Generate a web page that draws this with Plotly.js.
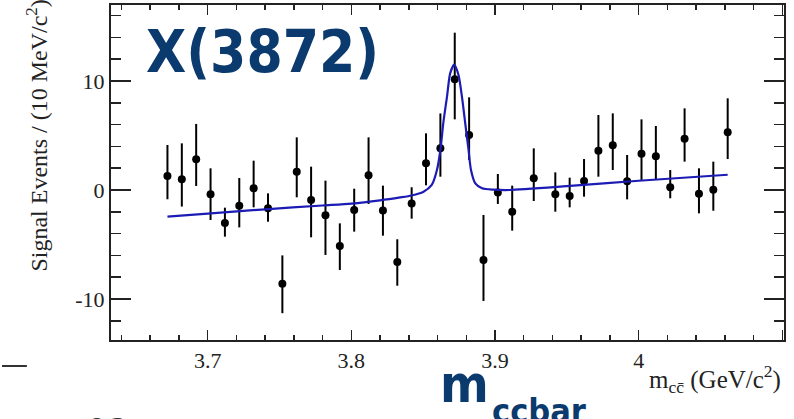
<!DOCTYPE html>
<html>
<head>
<meta charset="utf-8">
<script src="https://cdn.plot.ly/plotly-3.0.1.min.js"></script>
<style>html,body{margin:0;padding:0;background:#fff;overflow:hidden}#chart{width:794px;height:419px}</style>
</head>
<body>
<div id="chart"></div>
<script>
// Data points: bin centres (GeV/c^2), signal events and asymmetric errors
const massX = [3.672,3.682,3.692,3.702,3.712,3.722,3.732,3.742,3.752,3.762,3.772,3.782,3.792,3.802,3.812,3.822,3.832,3.842,3.852,3.862,3.872,3.882,3.892,3.902,3.912,3.927,3.942,3.952,3.962,3.972,3.982,3.992,4.002,4.012,4.022,4.032,4.042,4.052,4.062];
const events = [1.28,0.98,2.82,-0.40,-3.03,-1.44,0.15,-1.68,-8.60,1.68,-0.92,-2.32,-5.14,-1.83,1.35,-1.87,-6.61,-1.25,2.45,3.82,10.15,5.05,-6.42,-0.24,-1.99,1.07,-0.40,-0.55,0.82,3.61,4.10,0.80,3.33,3.09,0.25,4.71,-0.34,0.03,5.29];
const errUp = [2.85,3.30,3.24,2.39,1.41,2.54,2.54,1.37,2.60,3.15,3.06,3.18,2.08,1.95,3.48,2.27,2.09,1.50,2.75,3.20,4.28,3.45,4.13,1.71,2.39,2.75,2.02,1.68,2.02,3.27,2.93,2.41,3.15,2.78,1.58,2.78,2.33,2.57,3.12];
const errDown = [2.13,2.50,2.45,2.35,1.25,1.99,1.74,1.23,2.70,2.35,3.42,3.64,2.20,1.99,2.63,2.32,2.17,1.38,2.02,2.60,3.67,2.30,3.76,1.04,1.74,2.08,1.59,1.04,1.43,2.39,2.27,1.66,2.41,2.17,1.01,2.11,1.80,1.93,2.45];

// Fit curve
const fitX = [3.672,3.700,3.740,3.780,3.800,3.820,3.834,3.842,3.850,3.856,3.8596,3.862,3.864,3.8666,3.8688,3.8716,3.8746,3.877,3.8793,3.8816,3.8833,3.8863,3.891,3.899,3.910,3.950,4.000,4.062];
const fitY = [-2.45,-2.17,-1.77,-1.42,-1.25,-0.95,-0.68,-0.50,-0.18,0.46,1.83,3.67,6.12,8.56,10.70,11.50,10.55,8.56,6.12,3.67,1.83,0.61,0.16,0.03,0.00,0.35,0.85,1.40];

// Tick labels
const xTickVals = [3.7,3.8,3.9,4.0,4.1];
const xTickText = ["3.7","3.8","3.9","4","4.1"];
const yTickVals = [-10,0,10];
const yTickText = ["-10","0","10"];

const serif = "Liberation Serif, Times New Roman, serif";
const bold = "DejaVu Sans Condensed, DejaVu Sans, sans-serif";

const traces = [
  {
    x: massX, y: events, type: 'scatter', mode: 'markers',
    marker: {color: '#000', size: 8},
    error_y: {type: 'data', symmetric: false, array: errUp, arrayminus: errDown, color: '#000', thickness: 2, width: 0},
    hoverinfo: 'x+y'
  },
  {
    x: fitX, y: fitY, type: 'scatter', mode: 'lines',
    line: {color: '#1c1cb4', width: 2.2, shape: 'spline', smoothing: 0.7},
    hoverinfo: 'skip'
  }
];

const layout = {
  width: 794, height: 419,
  margin: {l: 111, r: 10, t: 5, b: 79, pad: 0},
  paper_bgcolor: '#fff', plot_bgcolor: '#fff',
  showlegend: false,
  xaxis: {
    range: [3.6327, 4.1012], showgrid: false, zeroline: false,
    showline: true, linecolor: '#222', linewidth: 2, mirror: 'ticks',
    ticks: 'inside', ticklen: 10, tickwidth: 1.5, tickcolor: '#222',
    tickvals: xTickVals, ticktext: xTickText,
    tickfont: {family: serif, size: 22, color: '#222'},
    minor: {dtick: 0.02, tick0: 3.7, ticks: 'inside', ticklen: 5, tickwidth: 1.5, tickcolor: '#222', showgrid: false}
  },
  yaxis: {
    range: [-13.76, 16.97], showgrid: false, zeroline: false,
    showline: true, linecolor: '#222', linewidth: 2, mirror: 'ticks',
    ticks: 'inside', ticklen: 20, tickwidth: 1.5, tickcolor: '#222',
    tickvals: yTickVals, ticktext: yTickText,
    tickfont: {family: serif, size: 22, color: '#222'},
    minor: {dtick: 2, tick0: 0, ticks: 'inside', ticklen: 10, tickwidth: 1.5, tickcolor: '#222', showgrid: false}
  },
  annotations: [
    {text: 'Signal Events / (10 MeV/c<sup>2</sup>)', xref: 'paper', yref: 'paper',
     x: -0.11, y: 0.61, xanchor: 'center', yanchor: 'middle', textangle: -90, showarrow: false,
     font: {family: serif, size: 24, color: '#222'}},
    {text: 'm<sub>cc̄</sub> (GeV/c<sup>2</sup>)', xref: 'paper', yref: 'paper',
     x: 0.999, y: -0.115, xanchor: 'right', yanchor: 'middle', showarrow: false,
     font: {family: serif, size: 25, color: '#222'}},
    {text: '<b>X(3872)</b>', xref: 'paper', yref: 'paper',
     x: 0.0485, y: 0.861, xanchor: 'left', yanchor: 'middle', showarrow: false,
     font: {family: bold, size: 58, color: '#0b3a6e'}},
    {text: '<b>m</b>', xref: 'paper', yref: 'paper',
     x: 0.486, y: -0.13, xanchor: 'left', yanchor: 'middle', showarrow: false,
     font: {family: bold, size: 52, color: '#0b3a6e'}},
    {text: '<b>ccbar</b>', xref: 'paper', yref: 'paper',
     x: 0.5625, y: -0.213, xanchor: 'left', yanchor: 'middle', showarrow: false,
     font: {family: bold, size: 34, color: '#0b3a6e'}},
    {text: '6O', xref: 'paper', yref: 'paper',
     x: -0.003, y: -0.266, xanchor: 'center', yanchor: 'middle', showarrow: false,
     font: {family: 'Liberation Sans, sans-serif', size: 32, color: '#333'}}
  ],
  shapes: [
    {type: 'line', xref: 'paper', yref: 'paper', x0: -0.162, x1: -0.125, y0: -0.0776, y1: -0.0776,
     line: {color: '#333', width: 2}}
  ]
};

Plotly.newPlot('chart', traces, layout, {displayModeBar: false, staticPlot: true});
</script>
</body>
</html>
